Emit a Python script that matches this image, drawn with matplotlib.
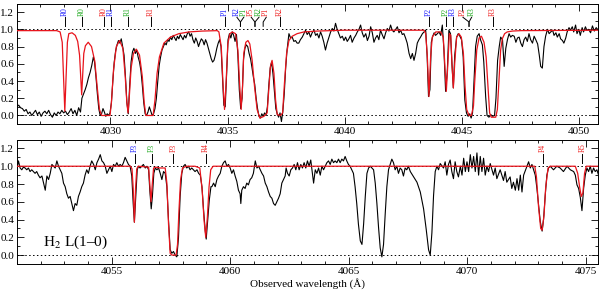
import numpy as np
import matplotlib
matplotlib.use("Agg")
import matplotlib.pyplot as plt
from matplotlib.ticker import MultipleLocator

plt.rcParams['font.family'] = ['Liberation Serif', 'DejaVu Serif']
plt.rcParams['mathtext.fontset'] = 'stix'

# ---- observed spectrum, upper panel (wavelength in A, normalised flux)
top_wave = [
    4026.00, 4026.08, 4026.16, 4026.24, 4026.32, 4026.40, 4026.48, 4026.56, 4026.64, 4026.72,
    4026.80, 4026.88, 4026.96, 4027.04, 4027.12, 4027.20, 4027.28, 4027.36, 4027.44, 4027.52,
    4027.60, 4027.68, 4027.76, 4027.84, 4027.92, 4028.00, 4028.08, 4028.16, 4028.24, 4028.32,
    4028.40, 4028.48, 4028.56, 4028.64, 4028.72, 4028.78, 4028.85, 4028.92, 4028.99, 4029.06,
    4029.13, 4029.20, 4029.27, 4029.32, 4029.38, 4029.44, 4029.50, 4029.56, 4029.62, 4029.68,
    4029.74, 4029.80, 4029.86, 4029.92, 4029.98, 4030.04, 4030.10, 4030.16, 4030.22, 4030.28,
    4030.34, 4030.40, 4030.46, 4030.52, 4030.58, 4030.64, 4030.70, 4030.76, 4030.82, 4030.88,
    4030.94, 4031.00, 4031.06, 4031.12, 4031.18, 4031.24, 4031.30, 4031.36, 4031.42, 4031.48,
    4031.54, 4031.60, 4031.66, 4031.72, 4031.78, 4031.84, 4031.90, 4031.96, 4032.02, 4032.08,
    4032.14, 4032.20, 4032.26, 4032.32, 4032.38, 4032.44, 4032.50, 4032.56, 4032.62, 4032.68,
    4032.74, 4032.80, 4032.86, 4032.92, 4032.98, 4033.04, 4033.10, 4033.16, 4033.22, 4033.28,
    4033.34, 4033.40, 4033.46, 4033.52, 4033.58, 4033.64, 4033.70, 4033.76, 4033.82, 4033.88,
    4033.94, 4034.00, 4034.06, 4034.12, 4034.18, 4034.24, 4034.30, 4034.36, 4034.42, 4034.48,
    4034.54, 4034.60, 4034.66, 4034.72, 4034.78, 4034.84, 4034.90, 4034.96, 4035.02, 4035.08,
    4035.14, 4035.20, 4035.26, 4035.32, 4035.38, 4035.44, 4035.50, 4035.56, 4035.62, 4035.68,
    4035.74, 4035.80, 4035.86, 4035.92, 4035.98, 4036.04, 4036.10, 4036.16, 4036.22, 4036.28,
    4036.34, 4036.40, 4036.46, 4036.52, 4036.58, 4036.64, 4036.70, 4036.76, 4036.82, 4036.88,
    4036.94, 4037.00, 4037.06, 4037.12, 4037.18, 4037.24, 4037.30, 4037.36, 4037.42, 4037.48,
    4037.54, 4037.62, 4037.69, 4037.76, 4037.83, 4037.90, 4037.97, 4038.04, 4038.11, 4038.19,
    4038.26, 4038.33, 4038.40, 4038.47, 4038.54, 4038.61, 4038.69, 4038.76, 4038.83, 4038.90,
    4038.97, 4039.04, 4039.11, 4039.18, 4039.25, 4039.33, 4039.40, 4039.47, 4039.54, 4039.61,
    4039.68, 4039.75, 4039.82, 4039.90, 4039.97, 4040.04, 4040.11, 4040.18, 4040.25, 4040.32,
    4040.40, 4040.47, 4040.54, 4040.61, 4040.68, 4040.75, 4040.82, 4040.90, 4040.97, 4041.04,
    4041.11, 4041.18, 4041.25, 4041.32, 4041.39, 4041.46, 4041.53, 4041.60, 4041.68, 4041.75,
    4041.82, 4041.89, 4041.96, 4042.03, 4042.10, 4042.18, 4042.25, 4042.32, 4042.39, 4042.46,
    4042.53, 4042.60, 4042.67, 4042.75, 4042.82, 4042.89, 4042.96, 4043.03, 4043.10, 4043.17,
    4043.24, 4043.32, 4043.39, 4043.46, 4043.52, 4043.58, 4043.64, 4043.70, 4043.76, 4043.82,
    4043.88, 4043.96, 4044.03, 4044.10, 4044.17, 4044.24, 4044.31, 4044.38, 4044.45, 4044.52,
    4044.58, 4044.64, 4044.70, 4044.78, 4044.85, 4044.92, 4044.99, 4045.06, 4045.13, 4045.20,
    4045.27, 4045.34, 4045.40, 4045.46, 4045.52, 4045.59, 4045.66, 4045.74, 4045.80, 4045.88,
    4045.94, 4046.02, 4046.08, 4046.16, 4046.24, 4046.32, 4046.40, 4046.46, 4046.53, 4046.60,
    4046.66, 4046.74, 4046.81, 4046.88, 4046.95, 4047.02, 4047.09, 4047.16, 4047.24, 4047.31,
    4047.38, 4047.45, 4047.52, 4047.59, 4047.66, 4047.73, 4047.80, 4047.87, 4047.94, 4048.02,
    4048.09, 4048.16, 4048.24, 4048.31, 4048.37, 4048.44, 4048.51, 4048.58, 4048.66, 4048.73,
    4048.80, 4048.88, 4048.94, 4049.02, 4049.08, 4049.16, 4049.22, 4049.30, 4049.36, 4049.44,
    4049.50, 4049.58, 4049.64, 4049.72, 4049.78, 4049.86, 4049.92, 4050.00, 4050.06, 4050.14,
    4050.20, 4050.28, 4050.34, 4050.42, 4050.50, 4050.58, 4050.66, 4050.74, 4050.80,
]
top_flux = [
    0.10, 0.12, 0.09, 0.08, 0.05, 0.07, 0.02, 0.04, 0.00, 0.03,
    0.06, 0.01, 0.04, -0.01, 0.03, 0.05, 0.02, 0.06, 0.01, -0.02,
    0.03, 0.00, 0.04, 0.02, 0.06, 0.03, 0.05, 0.01, 0.04, 0.08,
    0.02, 0.06, 0.00, 0.09, 0.04, 0.20, 0.25, 0.30, 0.36, 0.44,
    0.50, 0.58, 0.68, 0.62, 0.45, 0.25, 0.08, 0.00, 0.02, 0.08,
    0.04, -0.01, 0.02, 0.00, 0.03, 0.15, 0.40, 0.62, 0.75, 0.82,
    0.87, 0.84, 0.89, 0.80, 0.70, 0.45, 0.15, 0.02, 0.35, 0.62,
    0.74, 0.78, 0.72, 0.76, 0.68, 0.62, 0.52, 0.35, 0.15, 0.02,
    0.00, 0.04, 0.10, 0.05, 0.00, 0.02, 0.08, 0.20, 0.40, 0.58,
    0.68, 0.76, 0.80, 0.84, 0.82, 0.88, 0.86, 0.91, 0.88, 0.93,
    0.90, 0.87, 0.92, 0.89, 0.94, 0.91, 0.88, 0.93, 0.90, 0.95,
    0.97, 0.92, 0.95, 0.88, 0.84, 0.90, 0.86, 0.80, 0.85, 0.89,
    0.87, 0.82, 0.88, 0.84, 0.78, 0.72, 0.66, 0.62, 0.64, 0.70,
    0.78, 0.84, 0.88, 0.80, 0.45, 0.12, 0.10, 0.50, 0.88, 0.95,
    0.90, 0.97, 0.93, 0.86, 0.94, 0.70, 0.30, 0.08, 0.20, 0.65,
    0.78, 0.82, 0.80, 0.72, 0.66, 0.56, 0.45, 0.36, 0.20, 0.08,
    -0.01, -0.03, 0.02, -0.01, 0.03, 0.00, 0.10, 0.35, 0.55, 0.62,
    0.48, 0.28, 0.08, 0.02, -0.02, 0.03, -0.07, 0.05, 0.25, 0.55,
    0.76, 0.95, 0.90, 0.91, 0.86, 0.87, 0.84, 0.84, 0.88, 0.91,
    0.95, 0.99, 0.94, 0.97, 0.91, 0.96, 0.99, 0.93, 0.95, 0.90,
    0.97, 0.92, 0.85, 0.76, 0.84, 0.91, 0.97, 1.01, 0.98, 1.07,
    1.00, 0.95, 0.90, 0.92, 0.87, 0.91, 0.86, 0.89, 0.93, 0.85,
    0.90, 0.93, 0.97, 1.00, 1.05, 0.96, 0.91, 0.95, 0.87, 0.92,
    1.03, 0.96, 0.85, 0.90, 0.93, 0.88, 0.99, 0.94, 0.89, 0.96,
    1.01, 0.98, 1.05, 0.99, 0.97, 1.00, 1.03, 0.96, 0.99, 0.94,
    0.95, 0.90, 0.84, 0.72, 0.66, 0.72, 0.64, 0.72, 0.84, 0.88,
    0.91, 0.95, 0.97, 0.99, 0.70, 0.22, 0.30, 0.85, 0.92, 0.96,
    0.93, 0.95, 0.97, 0.93, 1.05, 0.75, 0.28, 0.50, 0.99, 0.95,
    0.60, 0.32, 0.70, 0.91, 0.95, 0.92, 0.88, 0.68, 0.18, 0.03,
    -0.01, 0.02, -0.03, 0.03, 0.38, 0.80, 0.92, 0.95, 0.88, 0.82,
    0.62, 0.22, 0.00, -0.02, 0.01, -0.01, 0.00, 0.20, 0.64, 0.80,
    0.91, 0.88, 0.57, 0.78, 0.88, 0.95, 0.91, 0.93, 0.92, 0.85,
    0.90, 0.91, 0.84, 0.80, 0.88, 0.91, 0.86, 0.95, 0.88, 0.84,
    0.92, 0.88, 0.83, 0.70, 0.57, 0.55, 0.80, 0.92, 1.00, 0.95,
    0.97, 0.99, 0.93, 0.96, 0.91, 0.95, 0.89, 0.87, 0.84, 0.90,
    0.97, 1.02, 0.99, 1.03, 0.97, 1.05, 0.95, 1.00, 0.93, 1.02,
    0.97, 1.03, 0.99, 1.00, 0.96, 1.04, 0.98, 1.02, 1.00,
]

# ---- fitted H2 model, upper panel
top_model_wave = [
    4026.00, 4027.70, 4027.85, 4027.94, 4027.99, 4028.05, 4028.11, 4028.16, 4028.22, 4028.36,
    4028.50, 4028.60, 4028.68, 4028.74, 4028.77, 4028.81, 4028.86, 4028.93, 4029.05, 4029.19,
    4029.33, 4029.43, 4029.53, 4029.62, 4029.98, 4030.04, 4030.13, 4030.25, 4030.39, 4030.53,
    4030.63, 4030.70, 4030.75, 4030.80, 4030.88, 4030.98, 4031.10, 4031.24, 4031.36, 4031.44,
    4031.51, 4031.82, 4031.90, 4031.99, 4032.09, 4032.28, 4032.56, 4032.92, 4033.35, 4033.92,
    4034.56, 4034.63, 4034.73, 4034.81, 4034.87, 4034.93, 4035.01, 4035.10, 4035.20, 4035.34,
    4035.44, 4035.52, 4035.58, 4035.64, 4035.69, 4035.78, 4035.87, 4035.95, 4036.05, 4036.15,
    4036.26, 4036.38, 4036.55, 4036.69, 4036.76, 4036.83, 4036.90, 4036.98, 4037.05, 4037.12,
    4037.26, 4037.35, 4037.43, 4037.52, 4037.62, 4037.76, 4037.97, 4038.26, 4038.83, 4039.97,
    4043.39, 4043.46, 4043.53, 4043.60, 4043.67, 4043.74, 4043.89, 4044.10, 4044.21, 4044.28,
    4044.34, 4044.40, 4044.47, 4044.53, 4044.58, 4044.64, 4044.70, 4044.78, 4044.88, 4044.98,
    4045.07, 4045.14, 4045.21, 4045.31, 4045.41, 4045.50, 4045.55, 4045.64, 4045.74, 4045.84,
    4045.95, 4046.04, 4046.12, 4046.19, 4046.26, 4046.45, 4046.52, 4046.59, 4046.66, 4046.73,
    4046.83, 4046.94, 4047.16, 4047.52, 4050.80,
]
top_model_flux = [
    0.985, 0.985, 0.97, 0.85, 0.50, 0.05, 0.50, 0.85, 0.95, 0.96,
    0.93, 0.86, 0.70, 0.40, 0.24, 0.45, 0.72, 0.81, 0.85, 0.80,
    0.63, 0.34, 0.07, 0.00, 0.00, 0.15, 0.53, 0.80, 0.87, 0.78,
    0.45, 0.15, 0.03, 0.20, 0.55, 0.72, 0.77, 0.70, 0.45, 0.15,
    0.00, 0.00, 0.18, 0.49, 0.68, 0.84, 0.91, 0.95, 0.97, 0.98,
    0.985, 0.97, 0.80, 0.34, 0.07, 0.34, 0.83, 0.95, 0.97, 0.95,
    0.76, 0.34, 0.07, 0.34, 0.72, 0.85, 0.87, 0.83, 0.64, 0.34,
    0.07, -0.03, -0.01, 0.03, 0.30, 0.57, 0.64, 0.49, 0.18, 0.01,
    0.00, 0.03, 0.38, 0.72, 0.87, 0.92, 0.95, 0.97, 0.98, 0.99,
    0.99, 0.95, 0.68, 0.22, 0.68, 0.91, 0.97, 0.97, 0.91, 0.57,
    0.28, 0.57, 0.95, 0.93, 0.61, 0.32, 0.61, 0.91, 0.95, 0.91,
    0.72, 0.34, 0.07, 0.00, 0.00, 0.11, 0.38, 0.76, 0.90, 0.92,
    0.85, 0.68, 0.34, 0.03, -0.02, -0.02, 0.07, 0.41, 0.76, 0.89,
    0.95, 0.97, 0.98, 0.985, 0.99,
]

# ---- observed spectrum, lower panel
bot_wave = [
    4050.93, 4051.00, 4051.07, 4051.14, 4051.21, 4051.28, 4051.35, 4051.42, 4051.49, 4051.56,
    4051.63, 4051.70, 4051.77, 4051.84, 4051.91, 4051.98, 4052.06, 4052.13, 4052.20, 4052.27,
    4052.34, 4052.41, 4052.48, 4052.55, 4052.62, 4052.69, 4052.76, 4052.83, 4052.90, 4052.97,
    4053.04, 4053.11, 4053.18, 4053.25, 4053.32, 4053.39, 4053.46, 4053.53, 4053.60, 4053.67,
    4053.74, 4053.81, 4053.88, 4053.95, 4054.02, 4054.09, 4054.16, 4054.24, 4054.31, 4054.38,
    4054.45, 4054.52, 4054.59, 4054.66, 4054.73, 4054.80, 4054.87, 4054.94, 4055.01, 4055.08,
    4055.15, 4055.22, 4055.29, 4055.36, 4055.43, 4055.50, 4055.57, 4055.64, 4055.71, 4055.78,
    4055.85, 4055.91, 4055.96, 4056.02, 4056.08, 4056.13, 4056.20, 4056.27, 4056.34, 4056.42,
    4056.49, 4056.56, 4056.61, 4056.67, 4056.72, 4056.78, 4056.84, 4056.91, 4056.98, 4057.05,
    4057.12, 4057.19, 4057.26, 4057.33, 4057.40, 4057.47, 4057.54, 4057.61, 4057.68, 4057.75,
    4057.82, 4057.89, 4057.96, 4058.03, 4058.10, 4058.17, 4058.24, 4058.31, 4058.38, 4058.45,
    4058.52, 4058.60, 4058.67, 4058.74, 4058.81, 4058.88, 4058.95, 4058.99, 4059.05, 4059.12,
    4059.19, 4059.23, 4059.30, 4059.37, 4059.44, 4059.51, 4059.58, 4059.65, 4059.72, 4059.79,
    4059.86, 4059.93, 4060.00, 4060.07, 4060.14, 4060.21, 4060.28, 4060.35, 4060.42, 4060.45,
    4060.49, 4060.56, 4060.63, 4060.70, 4060.77, 4060.84, 4060.91, 4060.98, 4061.06, 4061.13,
    4061.20, 4061.27, 4061.34, 4061.41, 4061.48, 4061.55, 4061.62, 4061.69, 4061.76, 4061.83,
    4061.90, 4061.97, 4062.04, 4062.11, 4062.18, 4062.25, 4062.32, 4062.36, 4062.42, 4062.49,
    4062.56, 4062.63, 4062.70, 4062.77, 4062.84, 4062.91, 4062.98, 4063.05, 4063.12, 4063.19,
    4063.26, 4063.33, 4063.40, 4063.47, 4063.52, 4063.59, 4063.66, 4063.73, 4063.80, 4063.87,
    4063.94, 4064.01, 4064.08, 4064.15, 4064.22, 4064.29, 4064.36, 4064.43, 4064.50, 4064.57,
    4064.64, 4064.71, 4064.78, 4064.85, 4064.92, 4064.99, 4065.06, 4065.13, 4065.20, 4065.27,
    4065.34, 4065.41, 4065.49, 4065.56, 4065.63, 4065.70, 4065.77, 4065.84, 4065.91, 4065.98,
    4066.05, 4066.12, 4066.19, 4066.26, 4066.33, 4066.40, 4066.47, 4066.54, 4066.61, 4066.68,
    4066.75, 4066.82, 4066.89, 4066.96, 4067.03, 4067.10, 4067.17, 4067.24, 4067.31, 4067.38,
    4067.45, 4067.52, 4067.60, 4067.74, 4067.88, 4068.02, 4068.16, 4068.27, 4068.37, 4068.44,
    4068.51, 4068.58, 4068.65, 4068.72, 4068.79, 4068.86, 4069.00, 4069.07, 4069.14, 4069.21,
    4069.28, 4069.35, 4069.42, 4069.49, 4069.56, 4069.63, 4069.71, 4069.78, 4069.85, 4069.92,
    4069.99, 4070.06, 4070.13, 4070.20, 4070.27, 4070.34, 4070.41, 4070.48, 4070.55, 4070.62,
    4070.69, 4070.76, 4070.83, 4070.90, 4070.97, 4071.11, 4071.18, 4071.25, 4071.39, 4071.53,
    4071.60, 4071.67, 4071.81, 4071.88, 4071.95, 4072.03, 4072.10, 4072.17, 4072.24, 4072.31,
    4072.38, 4072.52, 4072.59, 4072.66, 4072.73, 4072.80, 4072.87, 4072.94, 4073.01, 4073.08,
    4073.16, 4073.22, 4073.29, 4073.36, 4073.43, 4073.50, 4073.64, 4073.78, 4073.92, 4074.06,
    4074.21, 4074.35, 4074.49, 4074.56, 4074.63, 4074.70, 4074.77, 4074.84, 4074.91, 4074.98,
    4075.05, 4075.12, 4075.19, 4075.26, 4075.33, 4075.40, 4075.47, 4075.54,
]
bot_flux = [
    1.02, 0.96, 1.06, 0.98, 0.96, 0.99, 0.98, 0.96, 0.98, 0.94,
    0.96, 0.94, 0.92, 0.94, 0.90, 0.87, 0.89, 0.81, 0.73, 0.89,
    0.85, 0.92, 1.02, 1.00, 0.98, 1.06, 1.00, 0.96, 0.92, 0.81,
    0.77, 0.69, 0.64, 0.66, 0.58, 0.50, 0.58, 0.56, 0.66, 0.71,
    0.77, 0.81, 0.90, 0.96, 0.92, 1.00, 1.06, 1.02, 0.96, 1.04,
    1.08, 1.13, 1.06, 1.04, 1.00, 0.92, 0.96, 1.00, 0.94, 1.02,
    1.00, 1.04, 1.00, 1.02, 1.00, 1.04, 1.10, 1.06, 1.02, 1.00,
    0.89, 0.58, 0.37, 0.66, 0.96, 1.00, 0.98, 1.00, 1.02, 0.98,
    1.00, 0.96, 0.73, 0.52, 0.66, 0.92, 0.98, 0.96, 0.98, 0.92,
    0.85, 0.94, 0.92, 0.77, 0.39, 0.06, 0.02, 0.04, 0.00, -0.02,
    0.19, 0.66, 0.92, 1.00, 1.02, 0.98, 1.00, 0.96, 0.98, 0.96,
    0.94, 0.96, 0.92, 0.90, 0.77, 0.50, 0.27, 0.18, 0.39, 0.62,
    0.77, 0.77, 0.81, 0.77, 0.85, 0.89, 0.92, 1.00, 1.04, 1.06,
    1.00, 1.02, 0.98, 0.92, 0.96, 0.89, 0.83, 0.73, 0.69, 0.58,
    0.73, 0.77, 0.75, 0.81, 0.79, 0.85, 0.87, 0.92, 1.06, 0.98,
    1.00, 0.96, 0.92, 0.89, 0.81, 0.77, 0.71, 0.66, 0.64, 0.58,
    0.56, 0.60, 0.64, 0.69, 0.81, 0.85, 0.89, 0.98, 0.92, 0.89,
    0.96, 0.98, 1.02, 0.96, 1.04, 0.96, 1.02, 0.98, 1.04, 0.98,
    1.06, 1.00, 1.07, 0.92, 0.81, 0.96, 0.92, 0.98, 0.90, 1.00,
    0.96, 1.00, 1.04, 1.06, 1.02, 1.08, 1.04, 1.06, 1.04, 1.08,
    1.04, 1.08, 1.06, 1.11, 1.06, 1.02, 1.00, 0.96, 0.92, 0.77,
    0.58, 0.35, 0.16, 0.12, 0.35, 0.66, 0.92, 0.98, 1.00, 0.98,
    0.96, 0.81, 0.58, 0.31, 0.08, -0.02, 0.12, 0.46, 0.77, 0.96,
    1.02, 1.08, 1.04, 0.96, 1.00, 0.92, 0.98, 0.96, 0.89, 0.98,
    0.96, 1.00, 0.94, 0.88, 0.82, 0.71, 0.52, 0.29, 0.06, 0.00,
    0.25, 0.67, 0.94, 1.00, 0.96, 1.03, 0.98, 1.05, 0.90, 1.02,
    1.07, 0.94, 0.86, 1.05, 0.94, 0.88, 1.00, 0.90, 1.09, 0.94,
    1.05, 0.94, 1.13, 0.98, 1.11, 0.94, 1.15, 0.90, 1.11, 0.94,
    1.09, 0.90, 1.00, 0.94, 1.03, 0.90, 0.98, 0.86, 0.96, 0.84,
    0.94, 0.82, 0.88, 0.75, 0.82, 0.73, 0.86, 0.73, 0.90, 0.71,
    0.90, 1.00, 1.05, 0.98, 1.02, 0.96, 0.90, 0.75, 0.56, 0.38,
    0.27, 0.40, 0.67, 0.90, 0.98, 1.00, 0.96, 1.00, 0.98, 0.94,
    1.00, 0.96, 0.94, 0.90, 0.79, 0.75, 0.65, 0.50, 0.75, 0.90,
    0.98, 0.94, 1.00, 0.92, 0.98, 0.94, 0.96, 0.90,
]

# ---- fitted H2 model, lower panel
bot_model_wave = [
    4050.90, 4055.80, 4055.86, 4055.91, 4055.96, 4056.01, 4056.06, 4056.12, 4056.56, 4056.61,
    4056.66, 4056.71, 4056.77, 4056.85, 4057.05, 4057.26, 4057.33, 4057.40, 4057.47, 4057.54,
    4057.72, 4057.78, 4057.84, 4057.91, 4057.99, 4058.15, 4058.52, 4058.72, 4058.82, 4058.90,
    4058.97, 4059.04, 4059.11, 4059.18, 4059.28, 4072.85, 4072.92, 4073.01, 4073.10, 4073.16,
    4073.24, 4073.31, 4073.41, 4073.50, 4074.56, 4074.66, 4074.74, 4074.81, 4074.88, 4074.95,
    4075.02, 4075.60,
]
bot_model_flux = [
    1.00, 1.00, 0.97, 0.75, 0.37, 0.75, 0.97, 1.00, 0.99, 0.80,
    0.60, 0.78, 0.98, 0.99, 0.98, 0.98, 0.81, 0.35, 0.02, 0.00,
    0.00, 0.12, 0.50, 0.85, 0.98, 1.00, 1.00, 0.98, 0.73, 0.39,
    0.20, 0.43, 0.77, 0.96, 1.00, 1.00, 0.88, 0.54, 0.30, 0.28,
    0.45, 0.76, 0.98, 1.00, 1.00, 0.92, 0.77, 0.66, 0.70, 0.92,
    1.00, 1.00,
]

# ---- line identifications: label, label wavelength, line wavelength, component (0 blue, 1 green, 2 red)
top_names = ["R0", "R0", "R0", "R1", "R1", "R1", "P1", "R2", "P1", "P5", "R2", "P1", "R2",
             "P2", "P2", "R3", "P2", "R3", "R3"]
top_label_wave = [4028.05, 4028.79, 4029.71, 4030.03, 4030.75, 4031.71, 4034.87, 4035.40, 4035.69,
                  4036.01, 4036.34, 4036.65, 4037.23, 4043.60, 4044.31, 4044.63, 4045.05, 4045.42,
                  4046.32]
top_line_wave = [4028.05, 4028.79, 4029.71, 4030.03, 4030.75, 4031.71, 4034.87, 4035.55, 4035.55,
                 4036.17, 4036.17, 4036.52, 4037.23, 4043.60, 4044.31, 4044.63, 4045.31, 4045.31,
                 4046.32]
top_comp = [0, 1, 2, 0, 1, 2, 0, 0, 1, 2, 1, 2, 2, 0, 1, 0, 2, 1, 2]

bot_names = ["P3", "P3", "P3", "R4", "P4", "R5"]
bot_label_wave = [4055.97, 4056.70, 4057.61, 4058.99, 4073.19, 4074.86]
bot_line_wave = [4055.97, 4056.70, 4057.61, 4058.99, 4073.19, 4074.86]
bot_comp = [0, 1, 2, 2, 2, 2]

comp_colors = ['#1c1cff', '#22aa22', '#ee2222']
model_color = '#e8141c'


def draw_panel(ax, wave, flux, mwave, mflux, names, lab_w, line_w, comp, xlim):
    ax.axhline(1.0, color='k', ls=(0, (1.5, 2.5)), lw=0.7, zorder=1)
    ax.axhline(0.0, color='k', ls=(0, (1.5, 2.5)), lw=0.7, zorder=1)
    ax.plot(wave, flux, color='k', lw=0.8, zorder=2)
    ax.plot(mwave, mflux, color=model_color, lw=0.9, zorder=3)

    for name, lw_, lnw, c in zip(names, lab_w, line_w, comp):
        if abs(lw_ - lnw) > 0.005:
            ax.plot([lw_, lnw, lnw], [1.14, 1.085, 1.035], color='k', lw=0.7)
        else:
            ax.plot([lnw, lnw], [1.035, 1.14], color='k', lw=0.7)
        ax.text(lw_, 1.155, name, rotation=90, ha='center', va='bottom',
                fontsize=5.5, color=comp_colors[c])

    ax.set_xlim(*xlim)
    ax.set_ylim(-0.1, 1.3)
    ax.xaxis.set_major_locator(MultipleLocator(5))
    ax.xaxis.set_minor_locator(MultipleLocator(1))
    ax.yaxis.set_major_locator(MultipleLocator(0.2))
    ax.yaxis.set_minor_locator(MultipleLocator(0.1))
    ax.yaxis.set_major_formatter(plt.FormatStrFormatter('%.1f'))
    ax.xaxis.set_major_formatter(plt.FormatStrFormatter('%d'))
    ax.tick_params(which='both', direction='in', top=True, right=True,
                   labelsize=8, width=0.6, pad=2)
    ax.tick_params(which='major', length=5)
    ax.tick_params(which='minor', length=2.5)
    for s in ax.spines.values():
        s.set_linewidth(0.7)


fig = plt.figure(figsize=(6.0, 2.92), dpi=100)
ax1 = fig.add_axes([0.028, 0.575, 0.968, 0.413])
ax2 = fig.add_axes([0.028, 0.096, 0.968, 0.426])

draw_panel(ax1, top_wave, top_flux, top_model_wave, top_model_flux,
           top_names, top_label_wave, top_line_wave, top_comp, (4026.0, 4050.8))
draw_panel(ax2, bot_wave, bot_flux, bot_model_wave, bot_model_flux,
           bot_names, bot_label_wave, bot_line_wave, bot_comp, (4051.0, 4075.5))

ax2.text(4052.1, 0.1, 'H$_2$ L(1–0)', fontsize=11)
ax2.set_xlabel('Observed wavelength (Å)', fontsize=8, labelpad=2)

fig.savefig('out.png', dpi=100)
